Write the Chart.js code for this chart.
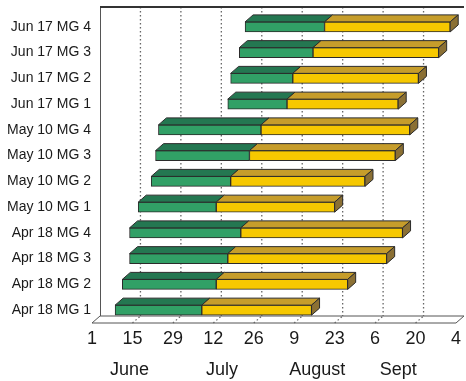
<!DOCTYPE html>
<html>
<head>
<meta charset="utf-8">
<script src="https://cdn.jsdelivr.net/npm/chart.js@4.4.1/dist/chart.umd.min.js"></script>
<style>
  html, body { margin: 0; padding: 0; background: #fff; }
  #wrap { width: 466px; height: 381px; position: relative; }
</style>
</head>
<body>
<div id="wrap"><canvas id="chart"></canvas></div>
<script>
/* growth stages per planting date / maturity group, days after June 1 */
var CATEGORIES = ['Apr 18 MG 1', 'Apr 18 MG 2', 'Apr 18 MG 3', 'Apr 18 MG 4',
                  'May 10 MG 1', 'May 10 MG 2', 'May 10 MG 3', 'May 10 MG 4',
                  'Jun 17 MG 1', 'Jun 17 MG 2', 'Jun 17 MG 3', 'Jun 17 MG 4'];
var START = [8, 10.5, 13, 13, 16, 20.5, 22, 23, 47, 48, 51, 53];
var SPLIT = [38, 43, 47, 51.5, 43, 48, 54.5, 58.5, 67.5, 69.5, 76.5, 80.5];
var END   = [76, 88.5, 102, 107.5, 84, 94.5, 105, 110, 106, 113, 120, 124];

var TICK_LABELS  = ['1', '15', '29', '12', '26', '9', '23', '6', '20', '4'];
var MONTH_LABELS = ['June', 'July', 'August', 'Sept'];
var MONTH_POS    = [13, 45, 78, 106];

var DX = 8, DY = 7;

var greenData  = START.map(function (s, i) { return [s, SPLIT[i]]; });
var yellowData = SPLIT.map(function (s, i) { return [s, END[i]]; });

function poly(ctx, pts, fill) {
  ctx.beginPath();
  ctx.moveTo(pts[0][0], pts[0][1]);
  for (var i = 1; i < pts.length; i++) ctx.lineTo(pts[i][0], pts[i][1]);
  ctx.closePath();
  ctx.fillStyle = fill; ctx.fill();
  ctx.strokeStyle = '#2b2b2b'; ctx.lineWidth = 1; ctx.stroke();
}

var depth3d = {
  id: 'depth3d',
  beforeDatasetsDraw: function (chart) {
    var ctx = chart.ctx, a = chart.chartArea, xs = chart.scales.x;
    ctx.save();
    /* floor */
    ctx.beginPath();
    ctx.moveTo(a.left, a.bottom); ctx.lineTo(a.right, a.bottom);
    ctx.lineTo(a.right + DX, a.bottom - DY); ctx.lineTo(a.left + DX, a.bottom - DY);
    ctx.closePath();
    ctx.strokeStyle = '#555'; ctx.lineWidth = 1; ctx.stroke();
    /* back wall grid */
    ctx.setLineDash([1.5, 2.5]);
    ctx.strokeStyle = '#666'; ctx.lineWidth = 1.3;
    xs.ticks.forEach(function (t, i) {
      var px = xs.getPixelForValue(t.value);
      if (i === 0 || i === xs.ticks.length - 1) return;
      ctx.beginPath();
      ctx.moveTo(px + DX, a.top - DY); ctx.lineTo(px + DX, a.bottom - DY);
      ctx.stroke();
      ctx.beginPath();
      ctx.moveTo(px, a.bottom); ctx.lineTo(px + DX, a.bottom - DY);
      ctx.stroke();
    });
    ctx.setLineDash([]);
    /* left wall edge */
    ctx.strokeStyle = '#555'; ctx.lineWidth = 1;
    ctx.beginPath();
    ctx.moveTo(a.left + DX + 0.5, a.top - DY); ctx.lineTo(a.left + DX + 0.5, a.bottom - DY);
    ctx.stroke();
    /* top edge */
    ctx.strokeStyle = '#333'; ctx.lineWidth = 2;
    ctx.beginPath();
    ctx.moveTo(a.left + DX, a.top - DY); ctx.lineTo(a.right + DX, a.top - DY);
    ctx.stroke();
    ctx.restore();
  },
  afterDatasetsDraw: function (chart) {
    var ctx = chart.ctx;
    ctx.save();
    chart.data.datasets.forEach(function (ds, di) {
      chart.getDatasetMeta(di).data.forEach(function (bar) {
        var x0 = Math.min(bar.base, bar.x), x1 = Math.max(bar.base, bar.x);
        var top = bar.y - bar.height / 2, bot = bar.y + bar.height / 2;
        poly(ctx, [[x0, top], [x1, top], [x1 + DX, top - DY], [x0 + DX, top - DY]], ds.topColor);
        if (ds.sideColor) {
          poly(ctx, [[x1, top], [x1, bot], [x1 + DX, bot - DY], [x1 + DX, top - DY]], ds.sideColor);
        }
      });
    });
    ctx.restore();
  }
};

new Chart(document.getElementById('chart'), {
  type: 'bar',
  data: {
    labels: CATEGORIES,
    datasets: [
      { label: 'Vegetative', data: greenData, backgroundColor: '#31a066', topColor: '#247751',
        borderColor: '#2b2b2b', borderWidth: 1, borderSkipped: false, barThickness: 10, grouped: false },
      { label: 'Reproductive', data: yellowData, backgroundColor: '#f6c800', topColor: '#c69d2b', sideColor: '#8b7034',
        borderColor: '#2b2b2b', borderWidth: 1, borderSkipped: false, barThickness: 10, grouped: false }
    ]
  },
  options: {
    indexAxis: 'y',
    responsive: true,
    maintainAspectRatio: false,
    animation: false,
    layout: { padding: { top: 14, right: 6, bottom: 0, left: 0 } },
    plugins: { legend: { display: false }, tooltip: { enabled: false } },
    scales: {
      y: {
        reverse: true,
        grid: { display: false, drawTicks: false }, border: { display: false },
        ticks: { font: { family: 'Liberation Sans', size: 14 }, color: '#1a1a1a', padding: 1 },
        afterFit: function (s) { s.width = 92; }
      },
      x: {
        position: 'bottom', min: 0, max: 126,
        grid: { display: false, drawTicks: false }, border: { display: false },
        ticks: { stepSize: 14, autoSkip: false, maxRotation: 0, padding: 5,
                 font: { family: 'Liberation Sans', size: 18 }, color: '#1a1a1a',
                 callback: function (v, i) { return TICK_LABELS[i]; } },
        afterFit: function (s) { s.height = 30; }
      },
      x2: {
        position: 'bottom', type: 'linear', min: 0, max: 126,
        grid: { display: false, drawTicks: false }, border: { display: false },
        afterBuildTicks: function (s) { s.ticks = MONTH_POS.map(function (v) { return { value: v }; }); },
        ticks: { autoSkip: false, maxRotation: 0, padding: 6,
                 font: { family: 'Liberation Sans', size: 18 }, color: '#1a1a1a',
                 callback: function (v, i) { return MONTH_LABELS[i]; } },
        afterFit: function (s) { s.height = 28; }
      }
    }
  },
  plugins: [depth3d]
});
</script>
</body>
</html>
